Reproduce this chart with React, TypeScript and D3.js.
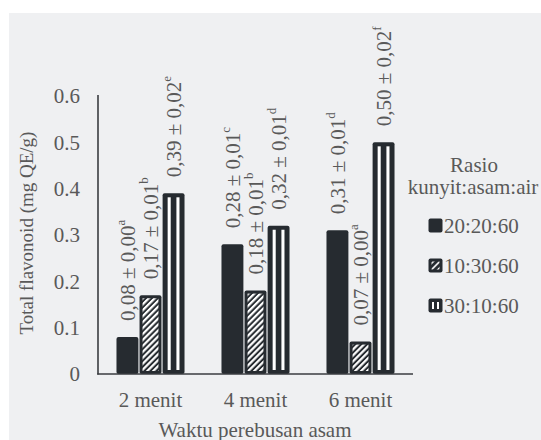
import React from "react";
import * as d3 from "d3";

// Flavonoid content per boiling time and ratio (kunyit:asam:air)
const categories = ["2 menit", "4 menit", "6 menit"];
const seriesNames = ["20:20:60", "10:30:60", "30:10:60"];
const values20_20_60 = [0.08, 0.28, 0.31];
const values10_30_60 = [0.17, 0.18, 0.07];
const values30_10_60 = [0.39, 0.32, 0.5];
const sd20_20_60 = ["0,00", "0,01", "0,01"];
const sd10_30_60 = ["0,01", "0,01", "0,00"];
const sd30_10_60 = ["0,02", "0,01", "0,02"];
const letters20_20_60 = ["a", "c", "d"];
const letters10_30_60 = ["b", "b", "a"];
const letters30_10_60 = ["e", "d", "f"];
const yTicks = [0, 0.1, 0.2, 0.3, 0.4, 0.5, 0.6];

const W = 541;
const H = 440;
const DARK = "#262b30";
const TEXT = "#595959";
const FONT = "Liberation Serif, Times New Roman, DejaVu Serif, serif";
const FS = 21;

const series = [
  { name: seriesNames[0], values: values20_20_60, sd: sd20_20_60, letters: letters20_20_60, kind: "solid" },
  { name: seriesNames[1], values: values10_30_60, sd: sd10_30_60, letters: letters10_30_60, kind: "hatch" },
  { name: seriesNames[2], values: values30_10_60, sd: sd30_10_60, letters: letters30_10_60, kind: "vlines" },
];

const x0 = d3.scaleBand<string>().domain(categories).range([98, 413]).paddingInner(0.352).paddingOuter(0.176);
const x1 = d3.scaleBand<string>().domain(seriesNames).range([0, x0.bandwidth()]).paddingInner(0.05);
const y = d3.scaleLinear().domain([0, 0.6]).range([374, 96]);

const fmt = (v: number) => d3.format(".2f")(v).replace(".", ",");

function Bar({ kind, x, yTop, w, h }: { kind: string; x: number; yTop: number; w: number; h: number }) {
  const b = 3;
  return (
    <g>
      <rect x={x} y={yTop} width={w} height={h} rx={2} fill={DARK} />
      {kind === "hatch" && h > 2 * b && (
        <rect x={x + b} y={yTop + b} width={w - 2 * b} height={h - 2 * b} fill="url(#hatch)" />
      )}
      {kind === "vlines" && h > 8 && (
        <>
          <rect x={x + w * 0.23} y={yTop + 4} width={w * 0.14} height={h - 8} fill="#ffffff" />
          <rect x={x + w * 0.63} y={yTop + 4} width={w * 0.14} height={h - 8} fill="#ffffff" />
        </>
      )}
    </g>
  );
}

const textStyle: React.CSSProperties = { fontFamily: FONT, fontSize: FS, fill: TEXT };

export default function App() {
  return (
    <svg width={W} height={H} style={{ position: "absolute", left: 0, top: 0, display: "block" }}>
      <defs>
        <pattern id="hatch" width={4.2} height={4.2} patternUnits="userSpaceOnUse" patternTransform="rotate(45)">
          <rect width={4.2} height={4.2} fill={DARK} />
          <rect width={2.2} height={4.2} fill="#ffffff" />
        </pattern>
        <pattern id="hatchSmall" width={4.5} height={4.5} patternUnits="userSpaceOnUse" patternTransform="rotate(45)">
          <rect width={4.5} height={4.5} fill={DARK} />
          <rect width={1.6} height={4.5} fill="#ffffff" />
        </pattern>
      </defs>
      <rect x={0} y={0} width={W} height={H} fill="#ffffff" />
      <rect x={9} y={13} width={W - 9} height={H - 13} fill="#eff0f2" />

      {/* y tick labels */}
      {yTicks.map((t) => (
        <text key={t} x={80} y={y(t)} dy="0.35em" textAnchor="end" style={textStyle}>
          {t === 0 ? "0" : d3.format(".1f")(t)}
        </text>
      ))}

      {/* bars and value labels */}
      {categories.map((c, ci) => (
        <g key={c}>
          {series.map((s) => {
            const bx = (x0(c) ?? 0) + (x1(s.name) ?? 0);
            const bw = x1.bandwidth();
            const v = s.values[ci];
            const cx = bx + bw / 2;
            const ly = y(v) - 16;
            return (
              <g key={s.name}>
                <Bar kind={s.kind} x={bx} yTop={y(v)} w={bw} h={y(0) - y(v)} />
                <text transform={`translate(${cx},${ly}) rotate(-90)`} dy="0.35em" style={textStyle}>
                  {`${fmt(v)} ± ${s.sd[ci]}`}
                  <tspan style={{ fontSize: FS * 0.62 }} dy="-0.75em">{s.letters[ci]}</tspan>
                </text>
              </g>
            );
          })}
        </g>
      ))}

      {/* axes */}
      <line x1={98} x2={98} y1={95} y2={374.5} stroke="#3a3d40" strokeWidth={1.6} />
      <line x1={97.2} x2={413} y1={374} y2={374} stroke="#3a3d40" strokeWidth={1.6} />

      {/* category labels */}
      {categories.map((c) => (
        <text key={c} x={(x0(c) ?? 0) + x0.bandwidth() / 2} y={407} textAnchor="middle" style={textStyle}>
          {c}
        </text>
      ))}

      {/* axis titles */}
      <text x={255} y={437} textAnchor="middle" style={textStyle}>Waktu perebusan asam</text>
      <text transform="translate(33,233) rotate(-90)" textAnchor="middle" style={{ ...textStyle, fontSize: 19 }}>
        Total flavonoid (mg QE/g)
      </text>

      {/* legend */}
      <text x={474} y={172} textAnchor="middle" style={textStyle}>Rasio</text>
      <text x={473} y={194} textAnchor="middle" style={textStyle}>kunyit:asam:air</text>
      {series.map((s, i) => {
        const base = 233 + i * 40;
        return (
          <g key={s.name}>
            <rect x={428.5} y={base - 14.5} width={14} height={14} rx={2} fill={DARK} />
            {s.kind === "hatch" && <rect x={431.5} y={base - 11.5} width={8} height={8} fill="url(#hatchSmall)" />}
            {s.kind === "vlines" && (
              <>
                <rect x={432} y={base - 11} width={2} height={7} fill="#ffffff" />
                <rect x={437} y={base - 11} width={2} height={7} fill="#ffffff" />
              </>
            )}
            <text x={444} y={base} style={textStyle}>{s.name}</text>
          </g>
        );
      })}
    </svg>
  );
}
